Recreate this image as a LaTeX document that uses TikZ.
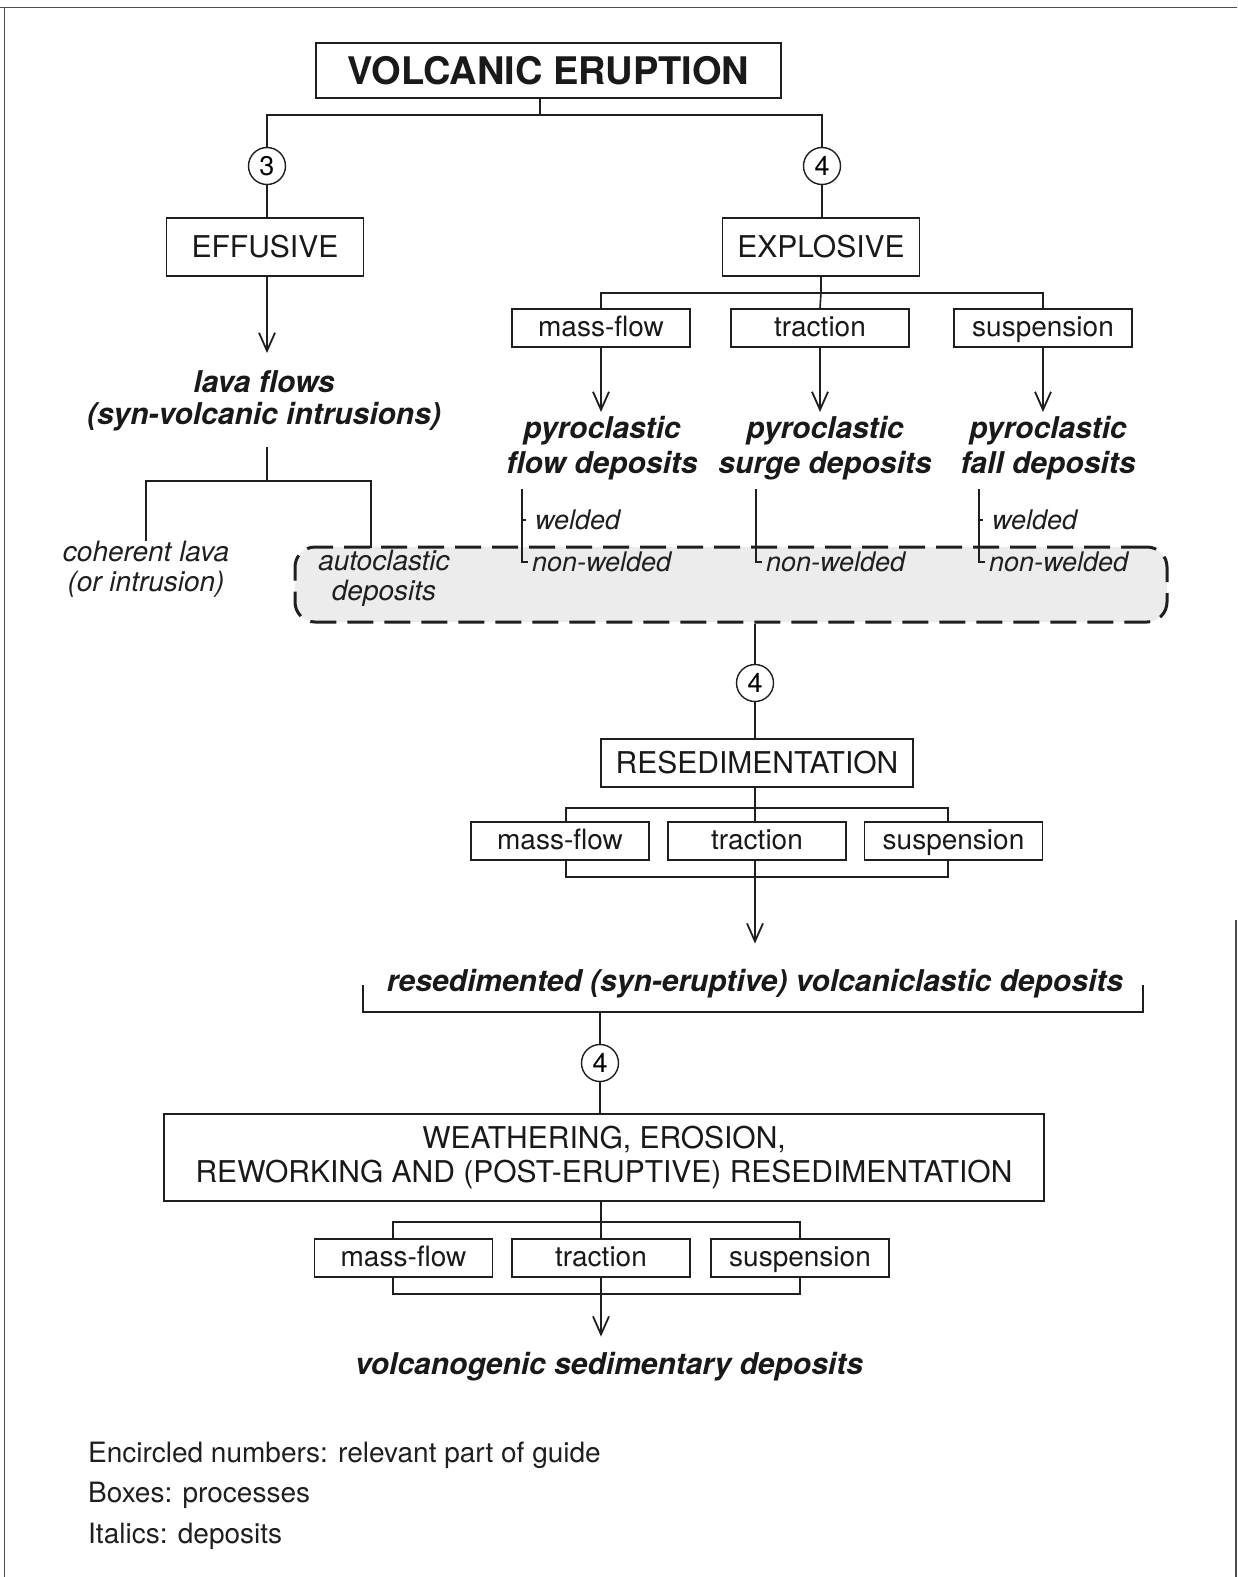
\documentclass[tikz,border=0pt]{standalone}
\usepackage{fontspec}
\setmainfont{TeX Gyre Heros}
\usetikzlibrary{arrows.meta,calc}
\begin{document}
\begin{tikzpicture}[x=1pt,y=-1pt,
  ink/.style={black!88},
  conn/.style={ink,line width=1.6pt},
  arr/.style={conn,-{Straight Barb[length=18pt,width=16pt,line width=1.8pt]}},
  proc/.style={draw=black!88,line width=1.7pt,fill=white,inner sep=0pt,text=black!90,font=\fontsize{30}{34}\selectfont},
  sub/.style={proc,minimum width=178pt,minimum height=38pt,text height=21pt,text depth=5pt,font=\fontsize{28}{32}\selectfont},
  num/.style={draw=black!88,circle,line width=1.4pt,fill=white,minimum size=37pt,inner sep=0pt,font=\fontsize{27}{27}\selectfont},
  dep/.style={inner sep=0pt,align=center,text=black!90,font=\fontsize{30}{35}\bfseries\itshape\selectfont},
  ital/.style={inner sep=0pt,align=center,text=black!88,font=\fontsize{28}{30}\itshape\selectfont},
  small/.style={inner sep=0pt,text=black!88,font=\fontsize{27}{30}\itshape\selectfont},
  legend/.style={inner sep=0pt,text=black!88,font=\fontsize{28}{30}\selectfont}
]
\useasboundingbox (0,0) rectangle (1237,1577);
% frame
\draw[black!70,line width=1.3pt] (0,7.5) -- (1237,7.5);
\draw[black!70,line width=1.3pt] (4.5,7.5) -- (4.5,1577);
\draw[black!70,line width=1.3pt] (1236,920) -- (1236,1577);

% dashed grouping region
\node[draw=black!88,line width=3pt,dash pattern=on 26pt off 11pt,rounded corners=20pt,
      fill=gray!15,minimum width=872pt,minimum height=75pt,inner sep=0pt] (DB) at (731,584.5) {};

% top level
\node[proc,minimum width=465pt,minimum height=55pt,font=\fontsize{38}{40}\bfseries\selectfont] (VE) at (548.5,70.5) {VOLCANIC ERUPTION};
\coordinate (j1) at (540,115);
\node[num] (c3) at (267,166) {3};
\node[num] (c4) at (822,166) {4};
\node[proc,minimum width=197pt,minimum height=58pt] (EFF) at (265,247) {EFFUSIVE};
\node[proc,minimum width=197pt,minimum height=58pt] (EXP) at (821,247) {EXPLOSIVE};
\draw[conn] ([xshift=-8.5pt]VE.south) -- (j1);
\draw[conn] (c3.north) |- (j1) -| (c4.north);
\draw[conn] (c3.south) -- (c3.south |- EFF.north);
\draw[conn] (c4.south) -- (c4.south |- EXP.north);

% effusive branch
\node[dep,font=\fontsize{30}{32}\bfseries\itshape\selectfont,anchor=north] (LF) at (264,370) {lava flows\\(syn-volcanic intrusions)};
\draw[arr,shorten >=17pt] (c3 |- EFF.south) -- (c3 |- LF.north);
\coordinate (lt) at (267,447);
\coordinate (j4) at (267,481);
\node[ital,anchor=north] (COH) at (146,541) {coherent lava\\(or intrusion)};
\node[ital,anchor=north] (AUTO) at (384,550) {autoclastic\\deposits};
\coordinate (ar) at (371,548);
\draw[conn] (lt) -- (j4);
\draw[conn] (COH.north) |- (j4) -| (ar);

% explosive branch
\coordinate (j2) at (821,293);
\node[sub] (MF1) at (601,328) {mass-flow};
\node[sub] (TR1) at (820,328) {traction};
\node[sub] (SU1) at (1043,328) {suspension};
\draw[conn] (EXP.south) -- (j2);
\draw[conn] (MF1.north) |- (j2) -| (SU1.north);
\draw[conn] (j2) -- (TR1.north);
\node[dep,anchor=north] (PF) at (602,416) {pyroclastic\\flow deposits};
\node[dep,anchor=north] (PS) at (825,416) {pyroclastic\\surge deposits};
\node[dep,anchor=north] (PL) at (1048,416) {pyroclastic\\fall deposits};
\draw[arr,shorten >=4pt] (MF1.south) -- (MF1.south |- PF.north);
\draw[arr,shorten >=4pt] (TR1.south) -- (TR1.south |- PS.north);
\draw[arr,shorten >=4pt] (SU1.south) -- (SU1.south |- PL.north);

% welded / non-welded brackets
\foreach \n/\x in {f/522,s/756,l/979}{
  \coordinate (wt\n) at (\x,489);
  \coordinate (wb\n) at (\x,562);
  \draw[ink,line width=1.3pt] (wt\n) -- (wb\n) -- ++(6,0);
  \node[small,anchor=west] at ($(wb\n)+(10,0)$) {non-welded};
}
\foreach \n/\x in {f/522,l/979}{
  \draw[ink,line width=1.3pt] (\x,520) -- ++(4,0);
  \node[small,anchor=west] at (\x+13,520) {welded};
}

% resedimentation
\node[num] (c5) at (755,683) {4};
\draw[conn] (DB.south -| c5.north) -- (c5.north);
\node[proc,minimum width=312pt,minimum height=48pt] (RES) at (757,763) {RESEDIMENTATION};
\draw[conn] (c5.south) -- (c5.south |- RES.north);
\node[sub] (MF2) at (560,841) {mass-flow};
\node[sub] (TR2) at (757,841) {traction};
\node[sub] (SU2) at (953.5,841) {suspension};
\coordinate (b2l) at (566,808);
\coordinate (b2r) at (948,808);
\coordinate (d2l) at (566,877);
\coordinate (d2r) at (948,877);
\draw[conn] (b2l |- MF2.north) -- (b2l) -- (b2r) -- (b2r |- SU2.north);
\draw[conn] (d2l |- MF2.south) -- (d2l) -- (d2r) -- (d2r |- SU2.south);
\draw[conn] (c5.south |- RES.south) -- (c5.south |- TR2.north);
\node[dep,anchor=base] (RSD) at (755,991) {resedimented (syn-eruptive) volcaniclastic deposits};
\draw[arr,shorten >=25pt] (c5.south |- TR2.south) -- (c5.south |- RSD.north);
\coordinate (r1) at (363,985);
\coordinate (r2) at (1143,985);
\coordinate (r3) at (600,1012);
\draw[conn] (r1) -- (r1 |- r3) -- (r2 |- r3) -- (r2);

% weathering
\node[num] (c6) at (600,1063) {4};
\draw[conn] (r3) -- (c6.north);
\node[proc,minimum width=880pt,minimum height=87pt,align=center] (WEA) at (604,1157.5) {WEATHERING, EROSION,\\REWORKING AND (POST-ERUPTIVE) RESEDIMENTATION};
\draw[conn] (c6.south) -- (c6.south |- WEA.north);
\node[sub] (MF3) at (403.5,1258) {mass-flow};
\node[sub] (TR3) at (601,1258) {traction};
\node[sub] (SU3) at (800,1258) {suspension};
\coordinate (b3l) at (393,1222);
\coordinate (b3r) at (800,1222);
\coordinate (d3l) at (393,1294);
\coordinate (d3r) at (800,1294);
\draw[conn] (TR3.north |- WEA.south) -- (TR3.north);
\draw[conn] (b3l |- MF3.north) -- (b3l) -- (b3r) -- (b3r |- SU3.north);
\draw[conn] (d3l |- MF3.south) -- (d3l) -- (d3r) -- (d3r |- SU3.south);
\node[dep,anchor=base] (VSD) at (609,1374) {volcanogenic sedimentary deposits};
\draw[arr,shorten >=15pt] (TR3.south) -- (TR3.south |- VSD.north);

% legend
\node[legend,anchor=base west] (L1) at (88,1462) {Encircled numbers: relevant part of guide};
\node[legend,anchor=base west] (L2) at (88,1502) {Boxes: processes};
\node[legend,anchor=base west] (L3) at (88,1543) {Italics: deposits};
\end{tikzpicture}
\end{document}
